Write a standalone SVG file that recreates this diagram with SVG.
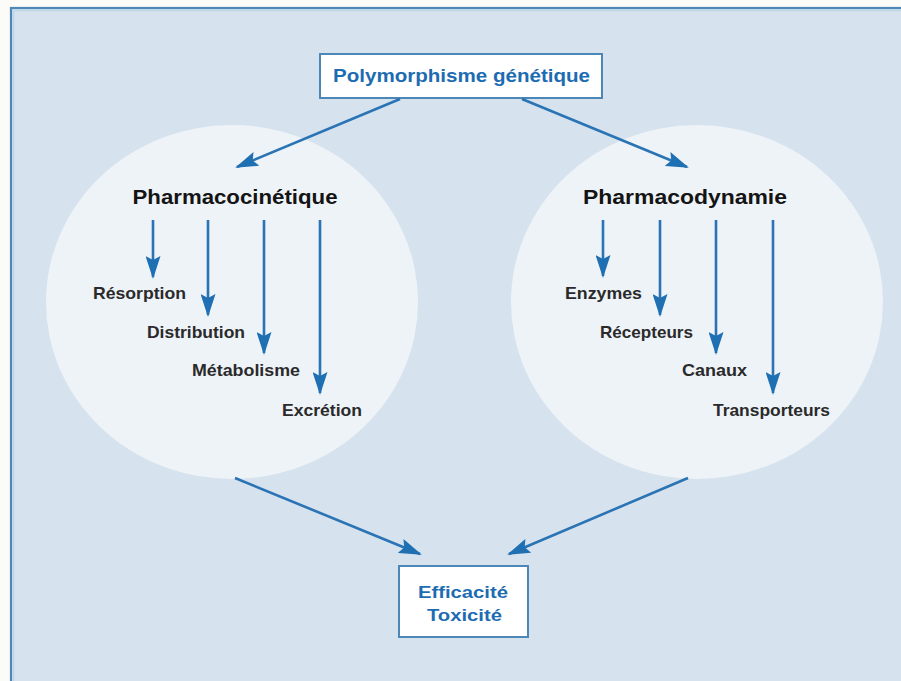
<svg xmlns="http://www.w3.org/2000/svg" width="901" height="681" viewBox="0 0 901 681">
<defs>
<marker id="ah" markerUnits="userSpaceOnUse" markerWidth="23" markerHeight="15" refX="21" refY="7.5" orient="auto" viewBox="0 0 23 15">
<path d="M0,0 L23,7.5 L0,15 L4,7.5 z" fill="#1f6fb3"/>
</marker>
<style>
.conn{stroke:#2a74b5;stroke-width:2.6;fill:none;marker-end:url(#ah)}
.box{fill:#ffffff;stroke:#4d87b8;stroke-width:2}
.blue{font-family:"Liberation Sans",Arial,sans-serif;font-weight:bold;fill:#1d6cb2}
.head{font-family:"Liberation Sans",Arial,sans-serif;font-weight:bold;fill:#141414;font-size:20px}
.lbl{font-family:"Liberation Sans",Arial,sans-serif;font-weight:bold;fill:#2a2a2a;font-size:17px}
.ell{fill:#eef3f8}
</style>
</defs>
<rect x="0" y="0" width="901" height="681" fill="#fbfbf8"/>
<rect x="11" y="8" width="900" height="690" fill="#d6e3ee" stroke="#4f88b8" stroke-width="2.2"/>
<rect x="13.5" y="10.5" width="900" height="690" fill="none" stroke="#bcd8e6" stroke-width="1.5"/>

<g id="pharmacocinetique">
<ellipse class="ell" cx="232" cy="302" rx="186" ry="177"/>
<text class="head" x="235" y="204" text-anchor="middle" textLength="205" lengthAdjust="spacingAndGlyphs">Pharmacocinétique</text>
<text class="lbl" x="93" y="299" textLength="93" lengthAdjust="spacingAndGlyphs">Résorption</text>
<text class="lbl" x="147" y="338" textLength="98" lengthAdjust="spacingAndGlyphs">Distribution</text>
<text class="lbl" x="192" y="376" textLength="108" lengthAdjust="spacingAndGlyphs">Métabolisme</text>
<text class="lbl" x="282" y="416" textLength="80" lengthAdjust="spacingAndGlyphs">Excrétion</text>
</g>

<g id="pharmacodynamie">
<ellipse class="ell" cx="697" cy="302" rx="186" ry="177"/>
<text class="head" x="685" y="204" text-anchor="middle" textLength="204" lengthAdjust="spacingAndGlyphs">Pharmacodynamie</text>
<text class="lbl" x="565" y="299" textLength="77" lengthAdjust="spacingAndGlyphs">Enzymes</text>
<text class="lbl" x="600" y="338" textLength="93" lengthAdjust="spacingAndGlyphs">Récepteurs</text>
<text class="lbl" x="682" y="376" textLength="65" lengthAdjust="spacingAndGlyphs">Canaux</text>
<text class="lbl" x="713" y="416" textLength="117" lengthAdjust="spacingAndGlyphs">Transporteurs</text>
</g>

<g id="polymorphisme">
<rect class="box" x="320" y="54" width="282" height="44"/>
<text class="blue" x="461.5" y="82" font-size="19" text-anchor="middle" textLength="257" lengthAdjust="spacingAndGlyphs">Polymorphisme génétique</text>
</g>

<g id="efficacite">
<rect class="box" x="399" y="566" width="129" height="71"/>
<text class="blue" x="463" y="598" font-size="17" text-anchor="middle" textLength="90" lengthAdjust="spacingAndGlyphs">Efficacité</text>
<text class="blue" x="464.5" y="621" font-size="17" text-anchor="middle" textLength="75" lengthAdjust="spacingAndGlyphs">Toxicité</text>
</g>

<g id="connectors">
<line class="conn" x1="400" y1="99" x2="237" y2="167"/>
<line class="conn" x1="522" y1="99" x2="687" y2="167"/>
<line class="conn" x1="153" y1="220" x2="153" y2="277"/>
<line class="conn" x1="208" y1="220" x2="208" y2="315"/>
<line class="conn" x1="264" y1="220" x2="264" y2="353"/>
<line class="conn" x1="320" y1="220" x2="320" y2="393"/>
<line class="conn" x1="603" y1="220" x2="603" y2="276"/>
<line class="conn" x1="660" y1="220" x2="660" y2="315"/>
<line class="conn" x1="716" y1="220" x2="716" y2="353"/>
<line class="conn" x1="773" y1="220" x2="773" y2="393"/>
<line class="conn" x1="235" y1="478" x2="420" y2="554"/>
<line class="conn" x1="688" y1="478" x2="509" y2="554"/>
</g>
</svg>
